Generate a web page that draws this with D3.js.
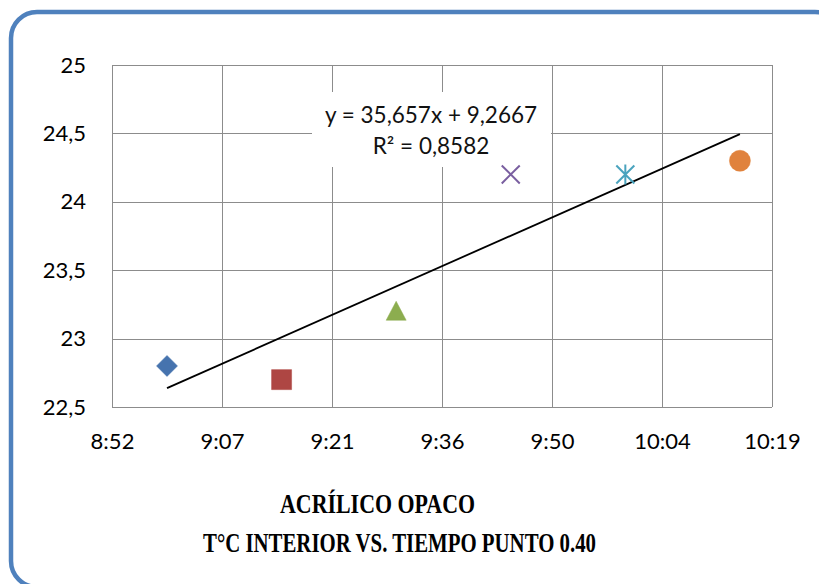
<!DOCTYPE html>
<html>
<head>
<meta charset="utf-8">
<script src="https://cdn.jsdelivr.net/npm/d3@7"></script>
<style>
  html, body { margin: 0; padding: 0; background: #ffffff; }
  svg { display: block; }
</style>
</head>
<body>
<svg id="chart" width="819" height="584"></svg>
<script>
// ---- data ----
const timeLabels = ["9:00", "9:15", "9:30", "9:45", "10:00", "10:15"];
const temperatures = [22.8, 22.7, 23.2, 24.2, 24.2, 24.3];
const markerShapes = ["diamond", "square", "triangle", "x", "star", "circle"];
const markerColors = ["#4673AE", "#AE4643", "#8CAD4F", "#7A5FA0", "#4AA3BE", "#E0823D"];
const xTickValues = [0.37, 0.38, 0.39, 0.40, 0.41, 0.42, 0.43];
const xTickLabels = ["8:52", "9:07", "9:21", "9:36", "9:50", "10:04", "10:19"];
const yTickValues = [22.5, 23, 23.5, 24, 24.5, 25];
const yTickLabels = ["22,5", "23", "23,5", "24", "24,5", "25"];
const trendSlope = [35.657];
const trendIntercept = [9.2667];
const trendLabels = ["y = 35,657x + 9,2667", "R² = 0,8582"];
const titleLines = ["ACRÍLICO OPACO", "T°C INTERIOR VS. TIEMPO PUNTO 0.40"];

// time "h:mm" -> fraction of day (Excel serial)
function toDay(t) { const [h, m] = t.split(":").map(Number); return (h * 60 + m) / 1440; }
const points = timeLabels.map((t, i) => ({ x: toDay(t), y: temperatures[i], shape: markerShapes[i], color: markerColors[i] }));

const svg = d3.select("#chart");

// frame
svg.append("rect")
  .attr("x", 11).attr("y", 12).attr("width", 830).attr("height", 575)
  .attr("rx", 26).attr("ry", 26)
  .attr("fill", "#ffffff").attr("stroke", "#4F81BD").attr("stroke-width", 4.5);

const plot = { left: 112, top: 65, right: 772, bottom: 407 };
const x = d3.scaleLinear().domain([0.37, 0.43]).range([plot.left, plot.right]);
const y = d3.scaleLinear().domain([22.5, 25]).range([plot.bottom, plot.top]);

const numFont = "Lato, 'Open Sans', sans-serif";

// gridlines
const grid = svg.append("g").attr("stroke", "#8C8C8C").attr("stroke-width", 1.3).attr("shape-rendering", "crispEdges");
grid.selectAll("line.h").data(yTickValues).join("line")
  .attr("x1", plot.left).attr("x2", plot.right)
  .attr("y1", d => Math.round(y(d)) + 0.5).attr("y2", d => Math.round(y(d)) + 0.5);
grid.selectAll("line.v").data(xTickValues).join("line")
  .attr("y1", plot.top).attr("y2", plot.bottom)
  .attr("x1", d => Math.round(x(d)) + 0.5).attr("x2", d => Math.round(x(d)) + 0.5);

// axes (labels only)
const yAxis = d3.axisLeft(y).tickValues(yTickValues)
  .tickFormat((d, i) => yTickLabels[i]).tickSize(0).tickPadding(26);
const gy = svg.append("g").attr("transform", `translate(${plot.left},0)`).call(yAxis);
gy.select(".domain").remove();
gy.selectAll("text").attr("font-family", numFont).attr("font-size", 22).attr("fill", "#000");

const xAxis = d3.axisBottom(x).tickValues(xTickValues)
  .tickFormat((d, i) => xTickLabels[i]).tickSize(0).tickPadding(26);
const gx = svg.append("g").attr("transform", `translate(0,${plot.bottom})`).call(xAxis);
gx.select(".domain").remove();
gx.selectAll("text").attr("font-family", numFont).attr("font-size", 22).attr("fill", "#000");

// trendline over data range
const xMin = d3.min(points, d => d.x), xMax = d3.max(points, d => d.x);
const trend = [xMin, xMax].map(v => ({ x: v, y: trendSlope[0] * v + trendIntercept[0] }));

// trendline label box
const lbl = svg.append("g");
lbl.append("rect").attr("x", 312).attr("y", 92).attr("width", 239).attr("height", 75).attr("fill", "#ffffff");
lbl.selectAll("text").data(trendLabels).join("text")
  .attr("x", 431).attr("y", (d, i) => 123 + i * 31)
  .attr("text-anchor", "middle")
  .attr("font-family", numFont).attr("font-size", 22.5).attr("fill", "#111")
  .text(d => d);

svg.append("path")
  .attr("d", d3.line().x(d => x(d.x)).y(d => y(d.y))(trend))
  .attr("stroke", "#000").attr("stroke-width", 1.8).attr("fill", "none");

// markers
function markerPath(shape) {
  const p = d3.path();
  if (shape === "diamond") { p.moveTo(0, -10.5); p.lineTo(10.5, 0); p.lineTo(0, 10.5); p.lineTo(-10.5, 0); p.closePath(); }
  else if (shape === "square") { p.rect(-10, -10, 20, 20); }
  else if (shape === "triangle") { p.moveTo(0, -10); p.lineTo(10, 9); p.lineTo(-10, 9); p.closePath(); }
  else if (shape === "circle") { p.arc(0, 0, 10.5, 0, 2 * Math.PI); }
  else if (shape === "x") { p.moveTo(-9, -9); p.lineTo(9, 9); p.moveTo(9, -9); p.lineTo(-9, 9); }
  else if (shape === "star") { p.moveTo(-9, -9); p.lineTo(9, 9); p.moveTo(9, -9); p.lineTo(-9, 9); p.moveTo(0, -10); p.lineTo(0, 10); }
  return p.toString();
}
svg.append("g").selectAll("path").data(points).join("path")
  .attr("transform", d => `translate(${x(d.x)},${y(d.y)})`)
  .attr("d", d => markerPath(d.shape))
  .attr("fill", d => (d.shape === "x" || d.shape === "star") ? "none" : d.color)
  .attr("stroke", d => d.color)
  .attr("stroke-width", d => (d.shape === "x" || d.shape === "star") ? 2 : 0.5);

// titles
const titleFont = "'Liberation Serif', 'Times New Roman', serif";
svg.append("text").attr("x", 280).attr("y", 513)
  .attr("font-family", titleFont).attr("font-weight", "bold").attr("font-size", 28)
  .attr("textLength", 195).attr("lengthAdjust", "spacingAndGlyphs")
  .text(titleLines[0]);
svg.append("text").attr("x", 203).attr("y", 552)
  .attr("font-family", titleFont).attr("font-weight", "bold").attr("font-size", 27)
  .attr("textLength", 393).attr("lengthAdjust", "spacingAndGlyphs")
  .text(titleLines[1]);
</script>
</body>
</html>
